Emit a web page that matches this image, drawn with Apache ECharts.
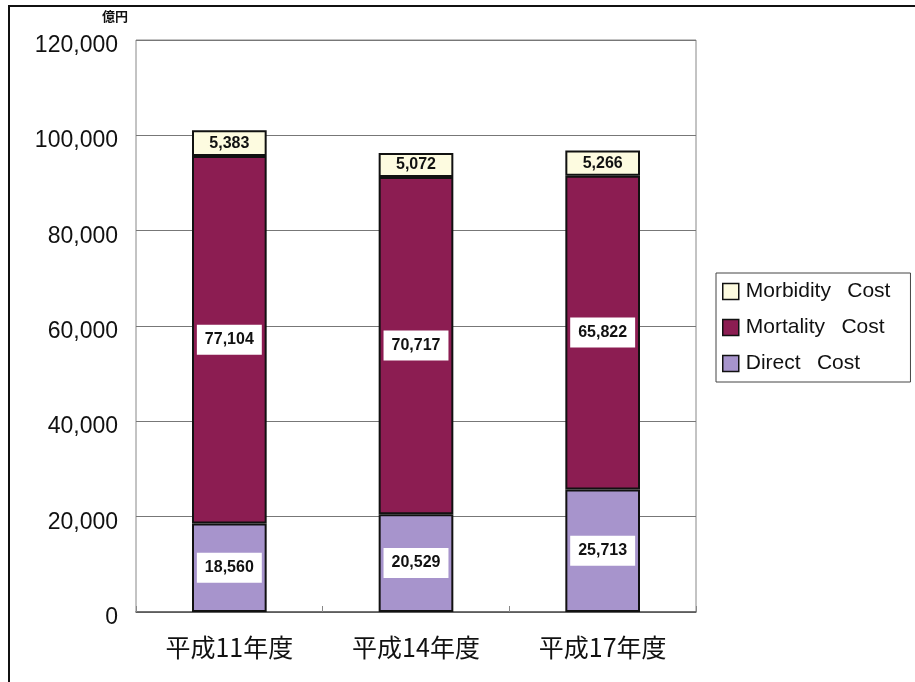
<!DOCTYPE html>
<html>
<head>
<meta charset="utf-8">
<script src="https://cdn.jsdelivr.net/npm/echarts@6/dist/echarts.min.js"></script>
<style>
  html, body { margin: 0; padding: 0; background: #fff; }
  #main { width: 915px; height: 682px; }
</style>
</head>
<body>
<div id="main"></div>
<script>
// 年度
const categories = ['平成11年度', '平成14年度', '平成17年度'];
// 億円
const directCost = [18560, 20529, 25713];
const mortalityCost = [77104, 70717, 65822];
const morbidityCost = [5383, 5072, 5266];
const yTicks = [0, 20000, 40000, 60000, 80000, 100000, 120000];

const numFont = '"Liberation Sans", Arial, sans-serif';
const jpFont = '"Noto Sans CJK JP", sans-serif';

//数値ラベル 3桁区切り
const fmt = (v) => v.toLocaleString('en-US');

const labelBox = (bg) => ({
    show: true,
    position: 'inside',
    formatter: (p) => fmt(p.value),
    color: '#111',
    fontFamily: numFont,
    fontWeight: 'bold',
    fontSize: 16,
    backgroundColor: bg,
    padding: bg ? [8, 8, 6, 8] : 0
});

const chart = echarts.init(document.getElementById('main'));
chart.setOption({
    animation: false,
    backgroundColor: '#fff',
    graphic: [
        // スキャン外枠
        {
            type: 'polyline',
            shape: { points: [[9, 700], [9, 6], [920, 6]] },
            style: { stroke: '#111', lineWidth: 2, fill: null }
        },
        {
            type: 'text',
            left: 102, top: 10,
            style: { text: '億円', font: 'bold 13px ' + jpFont, fill: '#111' }
        }
    ],
    legend: {
        orient: 'vertical',
        left: 716, top: 273,
        data: ['Morbidity  Cost', 'Mortality  Cost', 'Direct  Cost'],
        itemWidth: 16, itemHeight: 16,
        itemGap: 15,
        padding: [8, 20, 8, 6],
        borderColor: '#444', borderWidth: 1,
        icon: 'rect',
        textStyle: { fontFamily: numFont, fontSize: 21, color: '#111', padding: [0, 0, 0, 2] },
        formatter: (n) => n.replace('  ', '\u2002 '),
        itemStyle: { borderColor: '#111', borderWidth: 1.5 }
    },
    grid: { left: 136, right: 219, top: 40, bottom: 70, show: true, borderColor: '#888', borderWidth: 1 },
    xAxis: {
        type: 'category',
        data: categories,
        axisLine: { lineStyle: { color: '#555', width: 1.5 } },
        axisTick: { show: true, inside: true, length: 6, lineStyle: { color: '#888' } },
        axisLabel: { fontFamily: jpFont, fontSize: 25, color: '#111', margin: 23 }
    },
    yAxis: {
        type: 'value',
        min: yTicks[0], max: yTicks[yTicks.length - 1], interval: yTicks[1] - yTicks[0],
        axisLine: { show: false },
        axisTick: { show: false },
        splitLine: { lineStyle: { color: '#777', width: 1 } },
        axisLabel: {
            fontFamily: numFont, fontSize: 23, color: '#111', margin: 18,
            verticalAlign: 'top', lineHeight: 11,
            formatter: (v) => fmt(v)
        }
    },
    series: [
        {
            name: 'Direct  Cost', type: 'bar', stack: 'total', barWidth: '40%',
            data: directCost,
            itemStyle: { color: '#a794cc', borderColor: '#111', borderWidth: 2 },
            label: labelBox('#fff')
        },
        {
            name: 'Mortality  Cost', type: 'bar', stack: 'total',
            data: mortalityCost,
            itemStyle: { color: '#8c1d52', borderColor: '#111', borderWidth: 2 },
            label: labelBox('#fff')
        },
        {
            name: 'Morbidity  Cost', type: 'bar', stack: 'total',
            data: morbidityCost,
            itemStyle: { color: '#fdfbe0', borderColor: '#111', borderWidth: 2 },
            label: labelBox(null)
        }
    ]
});
</script>
</body>
</html>
